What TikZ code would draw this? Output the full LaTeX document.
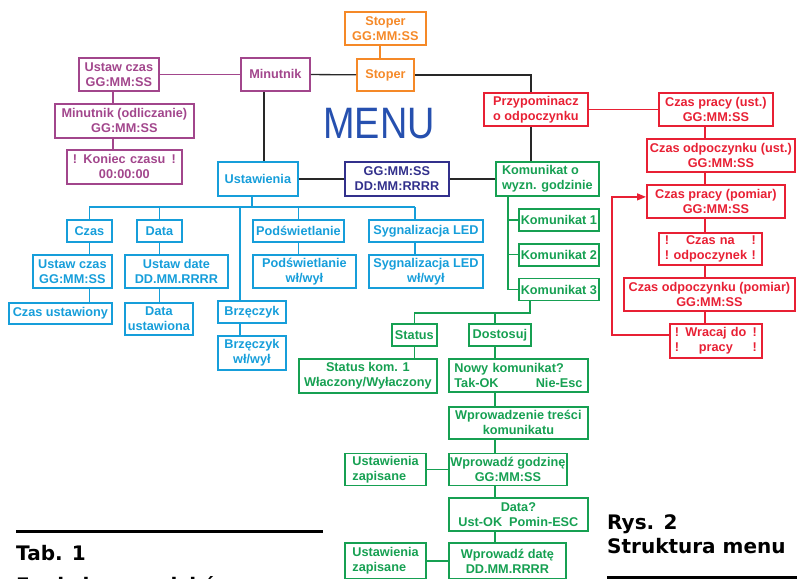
\documentclass[tikz,border=0pt]{standalone}
\usepackage{fontspec}
\setmainfont{Liberation Sans}
\newfontfamily\menufont[FakeStretch=0.86]{Liberation Sans}
\newfontfamily\capfont{DejaVu Sans}
\usetikzlibrary{arrows.meta, positioning, calc}

\definecolor{mpurple}{RGB}{162,70,140}
\definecolor{morange}{RGB}{245,137,40}
\definecolor{mred}{RGB}{232,32,52}
\definecolor{mcyan}{RGB}{22,158,218}
\definecolor{mnavy}{RGB}{50,48,140}
\definecolor{mgreen}{RGB}{22,160,82}
\definecolor{mgray}{RGB}{40,40,40}
\definecolor{mmenu}{RGB}{38,80,175}

\newcommand{\lab}{\bfseries\fontsize{12.7}{15}\selectfont}
\newcommand{\captxt}{\capfont\bfseries\fontsize{20}{24}\selectfont}

\begin{document}
\begin{tikzpicture}[x=1pt, y=-1pt, >=Stealth,
    block/.style={draw, rectangle, line width=1.8pt, inner sep=0pt, align=center, font=\lab},
    link/.style={line width=1.3pt, draw=mgray}]
    % Blocks
    \tikzstyle{pblock} = [block, draw=mpurple, text=mpurple]
    \tikzstyle{oblock} = [block, draw=morange, text=morange]
    \tikzstyle{rblock} = [block, draw=mred, text=mred]
    \tikzstyle{nblock} = [block, draw=mnavy, text=mnavy]
    \tikzstyle{cblock} = [block, draw=mcyan, text=mcyan]
    \tikzstyle{gblock} = [block, draw=mgreen, text=mgreen]
    \tikzstyle{plink} = [link, draw=mpurple]
    \tikzstyle{olink} = [link, draw=morange]
    \tikzstyle{rlink} = [link, draw=mred]
    \tikzstyle{clink} = [link, draw=mcyan]
    \tikzstyle{glink} = [link, draw=mgreen]

    \useasboundingbox (0,0) rectangle (797,578);

    % Minutnik
    \node[pblock, minimum width=80pt, minimum height=33pt, anchor=north west] (ustc) at (78,57) {Ustaw czas\\GG:MM:SS};
    \node[pblock, minimum width=69pt, minimum height=33pt, anchor=north west] (minut) at (240,57) {Minutnik};
    \node[pblock, minimum width=139pt, minimum height=34pt, anchor=north west] (odlic) at (54,103) {Minutnik (odliczanie)\\GG:MM:SS};
    \node[pblock, minimum width=115pt, minimum height=34pt, text width=103pt, anchor=north west] (koniec) at (66,149) {!\hfill Koniec czasu\hfill !\\00:00:00};

    % Stoper
    \node[oblock, minimum width=81pt, minimum height=33pt, anchor=north west] (stopgg) at (344,11) {Stoper\\GG:MM:SS};
    \node[oblock, minimum width=57pt, minimum height=32pt, anchor=north west] (stoper) at (356,58) {Stoper};

    \node[font=\menufont\fontsize{44}{44}\selectfont, text=mmenu, inner sep=0pt] (menu) at (379,124) {MENU};

    % Przypominacz
    \node[rblock, align=left, minimum width=104pt, minimum height=33pt, anchor=north west] (przyp) at (483,92) {Przypominacz\\o odpoczynku};
    \node[rblock, minimum width=114pt, minimum height=33pt, anchor=north west] (cpust) at (658,92) {Czas pracy (ust.)\\GG:MM:SS};
    \node[rblock, minimum width=148pt, minimum height=33pt, anchor=north west] (coust) at (646,138) {Czas odpoczynku (ust.)\\GG:MM:SS};
    \node[rblock, minimum width=138pt, minimum height=33pt, anchor=north west] (cppom) at (646,184) {Czas pracy (pomiar)\\GG:MM:SS};
    \node[rblock, minimum width=103pt, minimum height=32pt, text width=91pt, anchor=north west] (czasna) at (658,232) {!\hfill Czas na\hfill !\\!\hfill odpoczynek\hfill !};
    \node[rblock, minimum width=171pt, minimum height=33pt, anchor=north west] (copom) at (623,277) {Czas odpoczynku (pomiar)\\GG:MM:SS};
    \node[rblock, minimum width=92pt, minimum height=34pt, text width=82pt, anchor=north west] (wracaj) at (669,323) {!\hfill Wracaj do\hfill !\\!\hfill pracy\hfill !};

    % Zegar
    \node[nblock, minimum width=104pt, minimum height=34pt, anchor=north west] (zegar) at (344,161) {GG:MM:SS\\DD:MM:RRRR};

    % Ustawienia
    \node[cblock, minimum width=80pt, minimum height=34pt, anchor=north west] (ustaw) at (217,161) {Ustawienia};
    \node[cblock, minimum width=45pt, minimum height=22pt, anchor=north west] (czas) at (66,219) {Czas};
    \node[cblock, minimum width=45pt, minimum height=22pt, anchor=north west] (data) at (136,219) {Data};
    \node[cblock, minimum width=91pt, minimum height=22pt, anchor=north west] (podsw) at (252,219) {Podświetlanie};
    \node[cblock, minimum width=114pt, minimum height=22pt, anchor=north west] (sygn) at (368,219) {Sygnalizacja LED};
    \node[cblock, minimum width=79pt, minimum height=33pt, anchor=north west] (ustczas) at (32,254) {Ustaw czas\\GG:MM:SS};
    \node[cblock, minimum width=103pt, minimum height=33pt, anchor=north west] (ustdate) at (124,254) {Ustaw date\\DD.MM.RRRR};
    \node[cblock, minimum width=103pt, minimum height=33pt, anchor=north west] (podswww) at (252,254) {Podświetlanie\\wł/wył};
    \node[cblock, minimum width=114pt, minimum height=33pt, anchor=north west] (sygnww) at (368,254) {Sygnalizacja LED\\wł/wył};
    \node[cblock, minimum width=103pt, minimum height=21pt, anchor=north west] (czasust) at (8,302) {Czas ustawiony};
    \node[cblock, minimum width=68pt, minimum height=32pt, anchor=north west] (dataust) at (124,302) {Data\\ustawiona};
    \node[cblock, minimum width=68pt, minimum height=22pt, anchor=north west] (brzecz) at (217,300) {Brzęczyk};
    \node[cblock, minimum width=68pt, minimum height=34pt, anchor=north west] (brzeczww) at (217,335) {Brzęczyk\\wł/wył};

    % Komunikat
    \node[gblock, align=left, minimum width=103pt, minimum height=34pt, anchor=north west] (kom) at (495,161) {Komunikat o\\wyzn. godzinie};
    \node[gblock, minimum width=80pt, minimum height=22pt, anchor=north west] (kom1) at (518,208) {Komunikat 1};
    \node[gblock, minimum width=80pt, minimum height=22pt, below=11pt of kom1] (kom2) {Komunikat 2};
    \node[gblock, minimum width=80pt, minimum height=22pt, below=11pt of kom2] (kom3) {Komunikat 3};
    \node[gblock, minimum width=45pt, minimum height=22pt, anchor=north west] (status) at (391,323) {Status};
    \node[gblock, minimum width=62pt, minimum height=22pt, anchor=north west] (dostos) at (468,323) {Dostosuj};
    \node[gblock, minimum width=138pt, minimum height=34pt, anchor=north west] (statkom) at (298,358) {Status kom. 1\\Właczony/Wyłaczony};
    \node[gblock, align=left, text width=128pt, minimum width=139pt, minimum height=33pt, anchor=north west] (nowy) at (448,358) {Nowy komunikat?\\Tak-OK\hfill Nie-Esc};
    \node[gblock, minimum width=139pt, minimum height=32pt, below=13pt of nowy] (tresc) {Wprowadzenie treści\\komunikatu};
    \node[gblock, minimum width=118pt, minimum height=32pt, below=13pt of tresc.south west, anchor=north west] (godz) {Wprowadź godzinę\\GG:MM:SS};
    \node[gblock, align=left, minimum width=81pt, minimum height=32pt, left=21pt of godz] (zapis1) {Ustawienia\\zapisane};
    \node[gblock, minimum width=139pt, minimum height=33pt, below=11pt of godz.south west, anchor=north west] (dataq) {Data?\\Ust-OK\ \ Pomin-ESC};
    \node[gblock, minimum width=117pt, minimum height=36pt, below=10pt of dataq.south west, anchor=north west] (datawpr) {Wprowadź datę\\DD.MM.RRRR};
    \node[gblock, align=left, minimum width=81pt, minimum height=36pt, left=21pt of datawpr] (zapis2) {Ustawienia\\zapisane};

    % Lines
    \coordinate (mspine) at (264,0);
    \draw[link] (minut) -- (stoper);
    \draw[link] (stoper.east) -| ([xshift=-5pt]przyp.north);
    \draw[link] ([xshift=-5pt]przyp.south) -- ([xshift=-5pt]przyp.south |- kom.north);
    \draw[link] (minut.south -| mspine) -- (ustaw.north -| mspine);
    \draw[link] (ustaw) -- (zegar);
    \draw[link] (zegar) -- (kom);

    \coordinate (pspine) at (113,0);
    \draw[plink] (minut) -- (ustc);
    \draw[plink] (ustc.south -| pspine) -- (odlic.north -| pspine);
    \draw[plink] (odlic.south -| pspine) -- (koniec.north -| pspine);

    \coordinate (ospine) at (380,0);
    \draw[olink] (stopgg.south -| ospine) -- (stoper.north -| ospine);

    \coordinate (rspine) at (705,0);
    \draw[rlink] (przyp) -- (cpust);
    \draw[rlink] (cpust.south -| rspine) -- (coust.north -| rspine);
    \draw[rlink] (coust.south -| rspine) -- (cppom.north -| rspine);
    \draw[rlink] (cppom.south -| rspine) -- (czasna.north -| rspine);
    \draw[rlink] (czasna.south -| rspine) -- (copom.north -| rspine);
    \draw[rlink] (copom.south -| rspine) -- (wracaj.north -| rspine);
    \draw[rlink, -{Triangle[length=9pt, width=7pt]}] ([yshift=6pt]wracaj.west) -- ++(-57,0) |- ([yshift=4.5pt]cppom.west);

    \coordinate (cbus) at (252,207);
    \coordinate (sygx) at (415,0);
    \coordinate (bzx) at (240,0);
    \draw[clink] (ustaw.south -| cbus) -- (cbus);
    \draw[clink] (czas.north |- cbus) -- (sygx |- cbus);
    \draw[clink] (czas.north |- cbus) -- (czas.north);
    \draw[clink] (data.north |- cbus) -- (data.north);
    \draw[clink] (podsw.north |- cbus) -- (podsw.north);
    \draw[clink] (sygx |- cbus) -- (sygn.north -| sygx);
    \draw[clink] (bzx |- cbus) -- (brzecz.north -| bzx);
    \draw[clink] (czas.south) -- (czas.south |- ustczas.north);
    \draw[clink] (czas.south |- ustczas.south) -- (czas.south |- czasust.north);
    \draw[clink] (data.south) -- (data.south |- ustdate.north);
    \draw[clink] (data.south |- ustdate.south) -- (data.south |- dataust.north);
    \draw[clink] (podsw.south) -- (podsw.south |- podswww.north);
    \draw[clink] (sygn.south -| sygx) -- (sygnww.north -| sygx);
    \draw[clink] (brzecz.south -| bzx) -- (brzeczww.north -| bzx);

    \coordinate (gspine) at (508,0);
    \coordinate (gbus) at (530,313);
    \coordinate (gcol) at (495,0);
    \draw[glink] (kom.south -| gspine) |- (kom3.west);
    \draw[glink] (gspine |- kom1) -- (kom1.west);
    \draw[glink] (gspine |- kom2) -- (kom2.west);
    \draw[glink] (kom3.south -| gbus) -- (gbus) -| (status.north);
    \draw[glink] (gbus -| gcol) -- (dostos.north -| gcol);
    \draw[glink] (status.south) -- (status.south |- statkom.north);
    \draw[glink] (dostos.south -| gcol) -- (nowy.north -| gcol);
    \draw[glink] (nowy.south -| gcol) -- (tresc.north -| gcol);
    \draw[glink] (tresc.south -| gcol) -- (godz.north -| gcol);
    \draw[glink] (godz.south -| gcol) -- (dataq.north -| gcol);
    \draw[glink] (dataq.south -| gcol) -- (datawpr.north -| gcol);
    \draw[glink] (zapis1) -- (godz);
    \draw[glink] (zapis2) -- (datawpr);

    % Captions
    \node[anchor=base west, inner sep=0pt, font=\captxt] (tab) at (16,560) {Tab. 1};
    \node[anchor=base west, inner sep=0pt, font=\captxt] (tabname) at (16,592) {Funkcje przycisków};
    \node[anchor=base west, inner sep=0pt, font=\captxt] (rys) at (607,529) {Rys. 2};
    \node[anchor=base west, inner sep=0pt, font=\captxt] (rysname) at (607,553) {Struktura menu};
    \draw[line width=3pt] (16,531) -- (323,531);
    \draw[line width=3pt] (607,577) -- (797,577);
\end{tikzpicture}
\end{document}
